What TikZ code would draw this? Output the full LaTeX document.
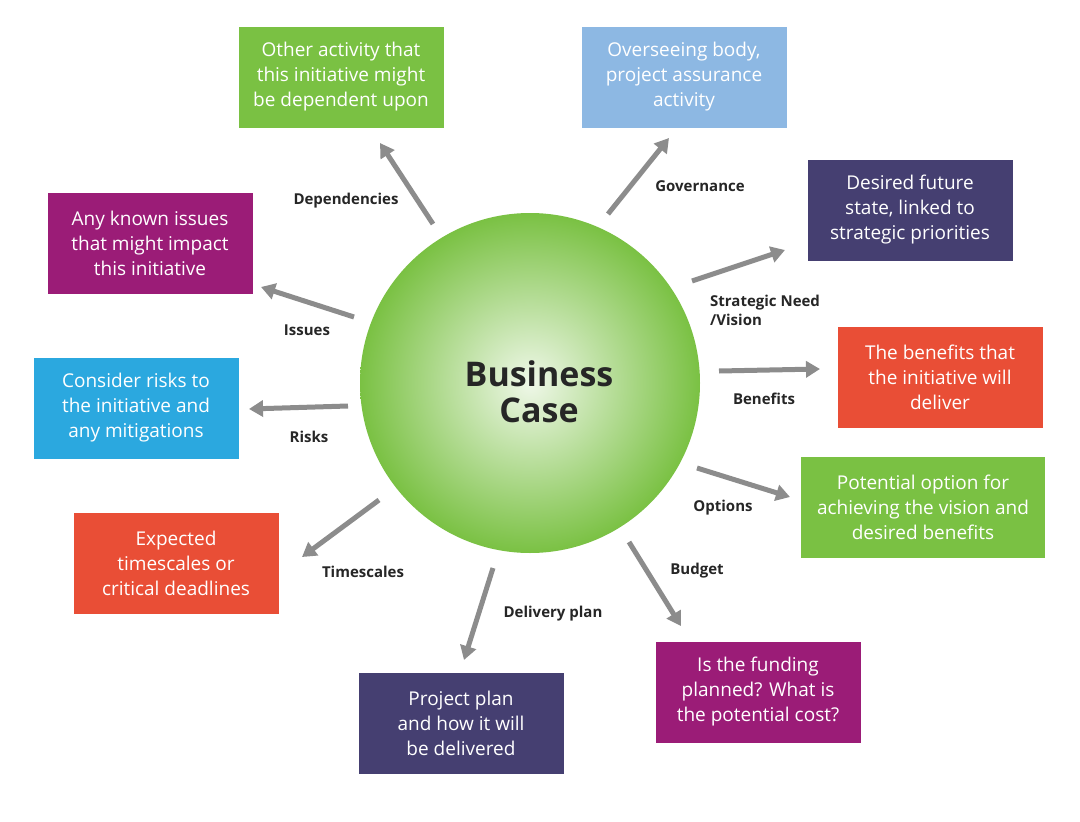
\documentclass[tikz,border=0pt]{standalone}
\usepackage{fontspec}
\setmainfont{Open Sans}
\usetikzlibrary{arrows.meta}
\definecolor{bgreen}{HTML}{7AC143}
\definecolor{bblue}{HTML}{8DB8E3}
\definecolor{bnavy}{HTML}{453F71}
\definecolor{bred}{HTML}{E94E36}
\definecolor{bmagenta}{HTML}{9B1C77}
\definecolor{bcyan}{HTML}{2BA8DF}
\definecolor{barrow}{HTML}{8C8C8C}
\begin{document}
\begin{tikzpicture}[x=1pt,y=-1pt]
  \tikzset{
    box/.style={fill=#1, text=white, minimum width=205pt, minimum height=101pt,
      inner sep=0pt, align=center, font=\fontsize{19}{25}\selectfont},
    lbl/.style={font=\fontsize{15}{19}\selectfont\bfseries, text=black!85, inner sep=0pt},
    link/.style={draw=barrow, line width=5pt, -{Triangle[length=14pt,width=16pt]}}
  }
  \useasboundingbox (0,0) rectangle (1080,822);
  \fill[white] (0,0) rectangle (1080,822);
  % hub
  \shade[inner color=bgreen!12, outer color=bgreen] (530,383) circle (170);
  \node[font=\fontsize{34}{36}\selectfont\bfseries, align=center, text=black!85] (hub) at (539,392) {Business\\Case};
  % boxes
  \node[box=bgreen] (dep) at (341,77) {Other activity that\\this initiative might\\be dependent upon};
  \node[box=bblue] (gov) at (684,77) {Overseeing body,\\project assurance\\activity};
  \node[box=bnavy] (need) at (910,210) {Desired future\\state, linked to\\strategic priorities};
  \node[box=bred] (ben) at (940,377) {The benefits that\\the initiative will\\deliver};
  \node[box=bgreen, minimum width=244pt] (opt) at (923,507) {Potential option for\\achieving the vision and\\desired benefits};
  \node[box=bmagenta] (bud) at (758,692) {Is the funding\\planned? What is\\the potential cost?};
  \node[box=bnavy] (plan) at (461,723) {Project plan\\and how it will\\be delivered};
  \node[box=bred] (time) at (176,563) {Expected\\timescales or\\critical deadlines};
  \node[box=bcyan] (risk) at (136,408) {Consider risks to\\the initiative and\\any mitigations};
  \node[box=bmagenta] (iss) at (150,243) {Any known issues\\that might impact\\this initiative};
  % arrow ends
  \coordinate (depA) at (433,224); \coordinate (depB) at (380,143);
  \coordinate (govA) at (608,214); \coordinate (govB) at (669,138);
  \coordinate (needA) at (692,281); \coordinate (needB) at (785,250);
  \coordinate (benA) at (719,371); \coordinate (benB) at (820,369);
  \coordinate (optA) at (697,468); \coordinate (optB) at (790,497);
  \coordinate (budA) at (629,542); \coordinate (budB) at (681,626);
  \coordinate (planA) at (493,568); \coordinate (planB) at (464,660);
  \coordinate (timeA) at (379,500); \coordinate (timeB) at (302,557);
  \coordinate (riskA) at (348,406); \coordinate (riskB) at (249,409);
  \coordinate (issA) at (354,317); \coordinate (issB) at (261,287);
  \foreach \n in {dep,gov,need,ben,opt,bud,plan,time,risk,iss}
    \draw[link] (\n A) -- (\n B);
  % labels
  \node[lbl] (depL) at (346,201) {Dependencies};
  \node[lbl] (govL) at (700,186) {Governance};
  \node[lbl, align=left, anchor=west] (needL) at (710,310) {Strategic Need\\/Vision};
  \node[lbl] (benL) at (764,399) {Benefits};
  \node[lbl] (optL) at (723,508) {Options};
  \node[lbl] (budL) at (697,571) {Budget};
  \node[lbl] (planL) at (553,614) {Delivery plan};
  \node[lbl] (timeL) at (363,572) {Timescales};
  \node[lbl] (riskL) at (309,437) {Risks};
  \node[lbl] (issL) at (307,330) {Issues};
\end{tikzpicture}
\end{document}
